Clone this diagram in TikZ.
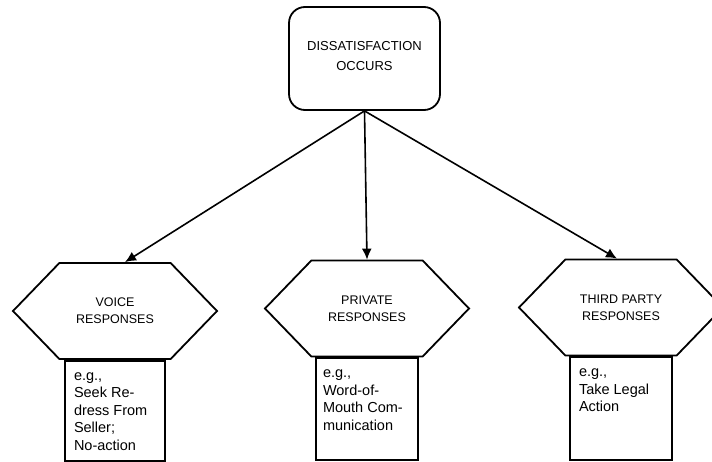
\documentclass[tikz,border=0pt]{standalone}
\usepackage{fontspec}
\setmainfont{Liberation Sans}
\usepackage{tikz}
\usetikzlibrary{arrows.meta,shapes,positioning,calc}
\tikzstyle{arrow} = [line width=1.6pt,-{Latex[length=11pt,width=10pt]}]
\tikzstyle{hexa} = [signal, signal to=west and east, signal pointer angle=92, draw, line width=1.8pt, minimum width=204pt, minimum height=96pt, inner sep=0pt, align=center, font=\fontsize{12.5}{17}\selectfont]
\tikzstyle{example} = [rectangle, draw, line width=1.8pt, anchor=north, inner xsep=7pt, inner ysep=7pt, font=\fontsize{14.5}{17.5}\selectfont]

\begin{document}
\begin{tikzpicture}[x=1pt, y=-1pt]
    \useasboundingbox (0,0) rectangle (712,461);

    % Dissatisfaction
    \node[rectangle, draw, line width=1.8pt, rounded corners=16pt, minimum width=151pt, minimum height=103pt, align=center, font=\fontsize{13}{20}\selectfont] (dissat) at (364.5,58.5) {DISSATISFACTION\\OCCURS\\[-14pt]};

    % Voice
    \node[hexa] (voice) at (115,311) {VOICE\\RESPONSES};
    \node[example] (voiceeg) at (voice.south) {\parbox[t][86pt][t]{86pt}{\raggedright\strut\hspace{2pt}e.g.,\\\hspace{2pt}Seek Re-\\\hspace{2pt}dress From\\\hspace{2pt}Seller;\\\hspace{2pt}No-action}};

    % Private
    \node[hexa] (private) at (367,308.5) {PRIVATE\\RESPONSES};
    \node[example] (privateeg) at (private.south) {\parbox[t][88pt][t]{88pt}{\raggedright\strut e.g.,\\Word-of-\\Mouth Com-\\munication}};

    % Third party
    \node[hexa] (third) at (621,307.5) {THIRD PARTY\\RESPONSES};
    \node[example] (thirdeg) at (third.south) {\parbox[t][89pt][t]{88pt}{\raggedright\strut\hspace{2pt}e.g.,\\\hspace{2pt}Take Legal\\\hspace{2pt}Action}};

    % Arrows
    \draw[arrow] (dissat.south) -- ($(voice.north)+(10,0)$);
    \draw[arrow] (dissat.south) -- (private.north);
    \draw[arrow] (dissat.south) -- ($(third.north)+(-4,0)$);
\end{tikzpicture}
\end{document}
